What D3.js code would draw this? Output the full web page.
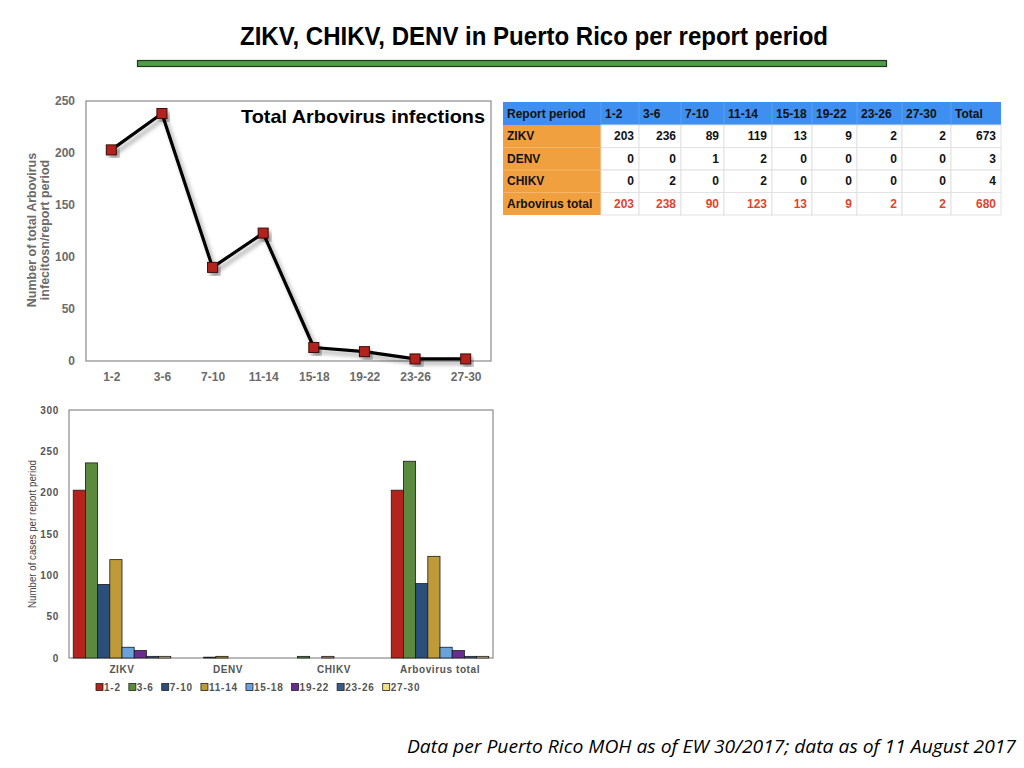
<!DOCTYPE html>
<html lang="en">
  <head>
    <meta charset="UTF-8" />
    <title>ZIKV, CHIKV, DENV in Puerto Rico</title>
    <script src="https://d3js.org/d3.v7.min.js"></script>
    <style>
      body { margin: 0; background: #fff; }
      svg { display: block; font-family: "Liberation Sans", Arial, sans-serif; }
    </style>
  </head>
  <body>
    <div id="chart-container"></div>

    <script>
      // Data
      const periods = ["1-2", "3-6", "7-10", "11-14", "15-18", "19-22", "23-26", "27-30"];
      const viruses = ["ZIKV", "DENV", "CHIKV", "Arbovirus total"];
      const zikv = [203, 236, 89, 119, 13, 9, 2, 2];
      const denv = [0, 0, 1, 2, 0, 0, 0, 0];
      const chikv = [0, 2, 0, 2, 0, 0, 0, 0];
      const arboTotal = [203, 238, 90, 123, 13, 9, 2, 2];
      const rowTotals = [673, 3, 4, 680];
      const lineTicks = [0, 50, 100, 150, 200, 250];
      const barTicks = [0, 50, 100, 150, 200, 250, 300];

      const seriesByVirus = [zikv, denv, chikv, arboTotal];
      const periodColors = ["#b3241c", "#5b8a3f", "#2b4e7a", "#bf9a38", "#6aa2dc", "#6a2c90", "#3a5a8a", "#d9c98a"];
      const legendColors = ["#b3241c", "#5b8a3f", "#2b4e7a", "#bf9a38", "#6aa2dc", "#6a2c90", "#3a5a8a", "#f3df8a"];

      const svg = d3
        .select("#chart-container")
        .append("svg")
        .attr("width", 1024)
        .attr("height", 768);

      // drop shadow used by the line chart
      const defs = svg.append("defs");
      const shadow = defs
        .append("filter")
        .attr("id", "shadow")
        .attr("x", "-20%")
        .attr("y", "-20%")
        .attr("width", "150%")
        .attr("height", "150%");
      shadow
        .append("feDropShadow")
        .attr("dx", 3)
        .attr("dy", 4)
        .attr("stdDeviation", 2.2)
        .attr("flood-color", "#000")
        .attr("flood-opacity", 0.35);

      // Slide title and green rule
      svg
        .append("text")
        .attr("x", 534)
        .attr("y", 45)
        .attr("text-anchor", "middle")
        .attr("font-size", 25)
        .attr("font-weight", "bold")
        .attr("textLength", 588)
        .attr("lengthAdjust", "spacingAndGlyphs")
        .text("ZIKV, CHIKV, DENV in Puerto Rico per report period");

      svg
        .append("rect")
        .attr("x", 137.5)
        .attr("y", 60.5)
        .attr("width", 749)
        .attr("height", 6)
        .attr("fill", "#4f9c4a")
        .attr("stroke", "#1e3a1c")
        .attr("stroke-width", 1.2);

      // ---------- Line chart: total arbovirus ----------
      const line = { left: 86, right: 491, top: 101, bottom: 361 };
      const xLine = d3.scalePoint().domain(periods).range([line.left, line.right]).padding(0.5);
      const yLine = d3.scaleLinear().domain([0, 250]).range([line.bottom, line.top]);

      const gLine = svg.append("g");
      gLine
        .append("rect")
        .attr("x", line.left)
        .attr("y", line.top)
        .attr("width", line.right - line.left)
        .attr("height", line.bottom - line.top)
        .attr("fill", "none")
        .attr("stroke", "#8a8a8a")
        .attr("stroke-width", 1.2);

      const yAxisLine = d3.axisLeft(yLine).tickValues(lineTicks).tickSize(0).tickPadding(11);
      gLine
        .append("g")
        .attr("transform", `translate(${line.left},0)`)
        .call(yAxisLine)
        .call((g) => g.select(".domain").remove())
        .selectAll("text")
        .attr("font-family", "Liberation Sans, Arial, sans-serif")
        .attr("font-size", 12)
        .attr("font-weight", "bold")
        .attr("fill", "#6b6b6b");

      const xAxisLine = d3.axisBottom(xLine).tickSize(0).tickPadding(11);
      gLine
        .append("g")
        .attr("transform", `translate(0,${line.bottom})`)
        .call(xAxisLine)
        .call((g) => g.select(".domain").remove())
        .selectAll("text")
        .attr("font-family", "Liberation Sans, Arial, sans-serif")
        .attr("font-size", 12)
        .attr("font-weight", "bold")
        .attr("fill", "#6b6b6b");

      const yTitleLine = gLine
        .append("text")
        .attr("transform", "translate(35.5,230) rotate(-90)")
        .attr("text-anchor", "middle")
        .attr("font-size", 12.5)
        .attr("font-weight", "bold")
        .attr("fill", "#6b6b6b");
      yTitleLine.append("tspan").attr("x", 0).attr("dy", 0).text("Number of total Arbovirus");
      yTitleLine.append("tspan").attr("x", 0).attr("dy", 13.5).text("infecitosn/report period");

      gLine
        .append("text")
        .attr("x", 485)
        .attr("y", 123)
        .attr("text-anchor", "end")
        .attr("font-size", 19)
        .attr("font-weight", "bold")
        .attr("fill", "#000")
        .attr("textLength", 244)
        .attr("lengthAdjust", "spacingAndGlyphs")
        .text("Total Arbovirus infections");

      const lineGen = d3
        .line()
        .x((d, i) => xLine(periods[i]))
        .y((d) => yLine(d));

      gLine
        .append("path")
        .datum(arboTotal)
        .attr("d", lineGen)
        .attr("fill", "none")
        .attr("stroke", "#000")
        .attr("stroke-width", 3.2)
        .attr("stroke-linejoin", "round")
        .attr("filter", "url(#shadow)");

      gLine
        .selectAll(".marker")
        .data(arboTotal)
        .enter()
        .append("rect")
        .attr("class", "marker")
        .attr("x", (d, i) => xLine(periods[i]) - 5)
        .attr("y", (d) => yLine(d) - 5)
        .attr("width", 10)
        .attr("height", 10)
        .attr("fill", "#b3241c")
        .attr("stroke", "#3a0c08")
        .attr("stroke-width", 1)
        .attr("filter", "url(#shadow)");

      // ---------- Table ----------
      const colWidths = [98, 38, 42, 43, 48, 40, 45, 45, 49, 50];
      const colX = [503];
      colWidths.forEach((w, i) => colX.push(colX[i] + w));
      const rowY = [102, 125, 147.5, 170, 192.5, 215];
      const headers = ["Report period"].concat(periods, ["Total"]);
      const gTable = svg.append("g").attr("font-size", 12).attr("font-weight", "bold");

      gTable
        .append("rect")
        .attr("x", colX[0])
        .attr("y", rowY[0])
        .attr("width", colX[10] - colX[0])
        .attr("height", rowY[1] - rowY[0])
        .attr("fill", "#3f8ff0");
      gTable
        .append("rect")
        .attr("x", colX[0])
        .attr("y", rowY[1])
        .attr("width", colWidths[0])
        .attr("height", rowY[5] - rowY[1])
        .attr("fill", "#f1a040");

      // light cell grid
      for (let r = 1; r <= 4; r++) {
        for (let c = 1; c <= 9; c++) {
          gTable
            .append("rect")
            .attr("x", colX[c])
            .attr("y", rowY[r])
            .attr("width", colWidths[c])
            .attr("height", rowY[r + 1] - rowY[r])
            .attr("fill", "#fff")
            .attr("stroke", "#e2e2e2")
            .attr("stroke-width", 1);
        }
      }
      // column separators in header and first column
      for (let c = 1; c <= 9; c++) {
        gTable
          .append("line")
          .attr("x1", colX[c])
          .attr("x2", colX[c])
          .attr("y1", rowY[0])
          .attr("y2", rowY[1])
          .attr("stroke", "#5f9ff0")
          .attr("stroke-width", 1);
      }
      for (let r = 2; r <= 4; r++) {
        gTable
          .append("line")
          .attr("x1", colX[0])
          .attr("x2", colX[1])
          .attr("y1", rowY[r])
          .attr("y2", rowY[r])
          .attr("stroke", "#f4b76a")
          .attr("stroke-width", 1);
      }

      gTable
        .selectAll(".head")
        .data(headers)
        .enter()
        .append("text")
        .attr("x", (d, i) => colX[i] + 4)
        .attr("y", rowY[0] + 16)
        .attr("fill", "#111")
        .text((d) => d);

      viruses.forEach((v, r) => {
        const isTotal = r === viruses.length - 1;
        const y = (rowY[r + 1] + rowY[r + 2]) / 2 + 4;
        gTable
          .append("text")
          .attr("x", colX[0] + 4)
          .attr("y", y)
          .attr("fill", "#111")
          .text(v);
        const values = seriesByVirus[r].concat([rowTotals[r]]);
        gTable
          .selectAll(".row" + r)
          .data(values)
          .enter()
          .append("text")
          .attr("x", (d, i) => colX[i + 2] - 5)
          .attr("y", y)
          .attr("text-anchor", "end")
          .attr("fill", isTotal ? "#e0442c" : "#111")
          .text((d) => d);
      });

      // ---------- Grouped bar chart ----------
      const bar = { left: 69, right: 493, top: 410, bottom: 658 };
      const x0 = d3.scaleBand().domain(viruses).range([bar.left, bar.right]).paddingInner(0.08).paddingOuter(0.04);
      const x1 = d3.scaleBand().domain(periods).range([0, x0.bandwidth()]);
      const yBar = d3.scaleLinear().domain([0, 300]).range([bar.bottom, bar.top]);

      const gBar = svg.append("g");
      gBar
        .append("rect")
        .attr("x", bar.left)
        .attr("y", bar.top)
        .attr("width", bar.right - bar.left)
        .attr("height", bar.bottom - bar.top)
        .attr("fill", "none")
        .attr("stroke", "#8a8a8a")
        .attr("stroke-width", 1.2);

      gBar
        .append("g")
        .attr("transform", `translate(${bar.left},0)`)
        .call(d3.axisLeft(yBar).tickValues(barTicks).tickSize(0).tickPadding(10))
        .call((g) => g.select(".domain").remove())
        .selectAll("text")
        .attr("font-family", "Liberation Sans, Arial, sans-serif")
        .attr("font-size", 10)
        .attr("font-weight", "bold")
        .attr("letter-spacing", 0.7)
        .attr("fill", "#555");

      gBar
        .append("g")
        .attr("transform", `translate(0,${bar.bottom})`)
        .call(d3.axisBottom(x0).tickSize(0).tickPadding(8))
        .call((g) => g.select(".domain").remove())
        .selectAll("text")
        .attr("font-family", "Liberation Sans, Arial, sans-serif")
        .attr("font-size", 10)
        .attr("font-weight", "bold")
        .attr("letter-spacing", 0.6)
        .attr("fill", "#555");

      gBar
        .append("text")
        .attr("transform", "translate(36,534) rotate(-90)")
        .attr("text-anchor", "middle")
        .attr("font-size", 10)
        .attr("textLength", 148)
        .attr("lengthAdjust", "spacingAndGlyphs")
        .attr("fill", "#444")
        .text("Number of cases per report period");

      const groups = gBar
        .selectAll(".group")
        .data(viruses)
        .enter()
        .append("g")
        .attr("class", "group")
        .attr("transform", (d) => `translate(${x0(d)},0)`);

      groups
        .selectAll("rect")
        .data((d, i) => seriesByVirus[i].map((v, j) => ({ period: periods[j], value: v, j })))
        .enter()
        .filter((d) => d.value > 0)
        .append("rect")
        .attr("x", (d) => x1(d.period))
        .attr("y", (d) => yBar(d.value))
        .attr("width", x1.bandwidth())
        .attr("height", (d) => bar.bottom - yBar(d.value))
        .attr("fill", (d) => periodColors[d.j])
        .attr("stroke", "#1a1a1a")
        .attr("stroke-width", 0.8);

      // legend, laid out by measured text width
      const gLegend = svg.append("g").attr("transform", "translate(96,688)");
      let lx = 0;
      periods.forEach((p, i) => {
        gLegend
          .append("rect")
          .attr("x", lx)
          .attr("y", -4.5)
          .attr("width", 7)
          .attr("height", 7)
          .attr("fill", legendColors[i])
          .attr("stroke", "#222")
          .attr("stroke-width", 0.8);
        const t = gLegend
          .append("text")
          .attr("x", lx + 8)
          .attr("y", 3)
          .attr("font-size", 10)
          .attr("font-weight", "bold")
          .attr("letter-spacing", 0.8)
          .attr("fill", "#555")
          .text(p);
        lx += 8 + t.node().getComputedTextLength() + 8;
      });

      // footnote
      svg
        .append("text")
        .attr("x", 1016)
        .attr("y", 753)
        .attr("text-anchor", "end")
        .attr("font-family", "'Open Sans', 'DejaVu Sans', sans-serif")
        .attr("font-style", "italic")
        .attr("font-size", 18.5)
        .attr("textLength", 609)
        .attr("lengthAdjust", "spacingAndGlyphs")
        .attr("fill", "#000")
        .text("Data per Puerto Rico MOH as of EW 30/2017; data as of 11 August 2017");
    </script>
  </body>
</html>
